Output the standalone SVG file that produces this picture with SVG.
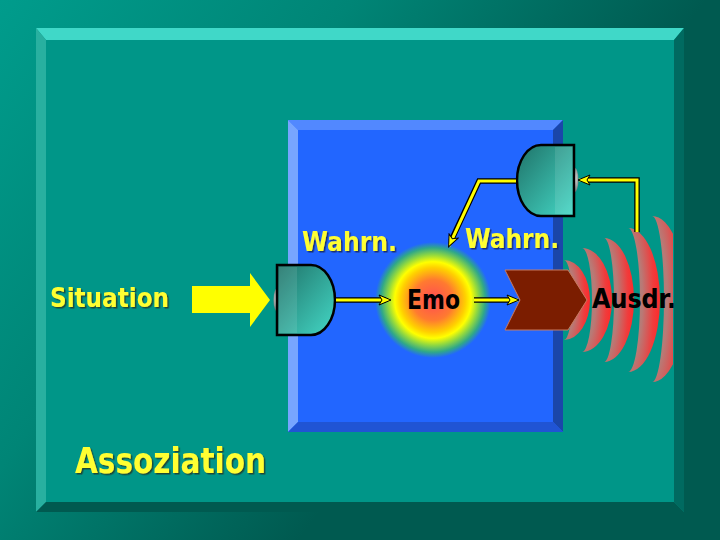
<svg xmlns="http://www.w3.org/2000/svg" width="720" height="540" viewBox="0 0 720 540">
  <defs>
    <linearGradient id="bg" gradientUnits="userSpaceOnUse" x1="0" y1="0" x2="450" y2="340">
      <stop offset="0" stop-color="#009c8c"/>
      <stop offset="0.5" stop-color="#008576"/>
      <stop offset="1" stop-color="#005a50"/>
    </linearGradient>
    <linearGradient id="rec" x1="0" y1="0" x2="1" y2="1">
      <stop offset="0" stop-color="#1f7268"/>
      <stop offset="1" stop-color="#44d8c6"/>
    </linearGradient>
    <radialGradient id="bump" cx="0.5" cy="0.45" r="0.6">
      <stop offset="0" stop-color="#ffffff"/>
      <stop offset="1" stop-color="#707878"/>
    </radialGradient>
    <radialGradient id="glow" gradientUnits="userSpaceOnUse" cx="433" cy="300" r="58">
      <stop offset="0" stop-color="#ff4a55"/>
      <stop offset="0.35" stop-color="#ff7a30"/>
      <stop offset="0.56" stop-color="#ffd000"/>
      <stop offset="0.66" stop-color="#ffff00"/>
      <stop offset="0.78" stop-color="#90d840"/>
      <stop offset="0.9" stop-color="#30a888"/>
      <stop offset="1" stop-color="#2266ff"/>
    </radialGradient>
    <radialGradient id="wave" cx="0" cy="0.5" r="1">
      <stop offset="0" stop-color="#a08680"/>
      <stop offset="0.45" stop-color="#b87a76"/>
      <stop offset="0.8" stop-color="#f03c3c"/>
      <stop offset="1" stop-color="#ff2a2a"/>
    </radialGradient>
    <clipPath id="waveClip">
      <rect x="555" y="190" width="118" height="220"/>
    </clipPath>
    <filter id="shTeal" x="-5%" y="-20%" width="115%" height="150%">
      <feDropShadow dx="1.5" dy="1.5" stdDeviation="0.4" flood-color="#1a4030" flood-opacity="0.9"/>
    </filter>
    <filter id="shBlue" x="-5%" y="-20%" width="115%" height="150%">
      <feDropShadow dx="1.5" dy="1.5" stdDeviation="0.4" flood-color="#152a66" flood-opacity="0.9"/>
    </filter>
    <marker id="ah" markerUnits="userSpaceOnUse" markerWidth="14" markerHeight="12" viewBox="0 0 14 12" refX="12" refY="6" orient="auto">
      <path d="M1,1 L13,6 L1,11 L4,6 Z" fill="#ffff00" stroke="#000" stroke-width="1"/>
    </marker>
  </defs>
  <style>
    .ylw { fill: #ffff33; font-family: "DejaVu Sans", sans-serif; font-weight: bold; }
    .blk { fill: #000; font-family: "DejaVu Sans", sans-serif; font-weight: bold; }
    .lineK { fill: none; stroke: #000; stroke-width: 5.5; stroke-linejoin: miter; }
    .lineY { fill: none; stroke: #ffff00; stroke-width: 3; stroke-linejoin: miter; }
    .recOut { fill: url(#rec); stroke: #000; stroke-width: 2.5; }
  </style>

  <!-- background and frame -->
  <rect x="0" y="0" width="720" height="540" fill="url(#bg)"/>
  <g id="frame">
    <rect x="36" y="28" width="648" height="484" fill="#009688"/>
    <polygon points="36,28 684,28 674,40 46,40" fill="#40d8c8"/>
    <polygon points="36,28 46,40 46,502 36,512" fill="#28b0a0"/>
    <polygon points="684,28 684,512 674,502 674,40" fill="#006a60"/>
    <polygon points="36,512 46,502 674,502 684,512" fill="#005a50"/>
  </g>

  <!-- blue box -->
  <g id="box">
    <rect x="288" y="120" width="275" height="312" fill="#2266ff"/>
    <polygon points="288,120 563,120 553,130 298,130" fill="#5288ff"/>
    <polygon points="288,120 298,130 298,422 288,432" fill="#77a5ff"/>
    <polygon points="563,120 563,432 553,422 553,130" fill="#1a46aa"/>
    <polygon points="288,432 298,422 553,422 563,432" fill="#2054d4"/>
  </g>

  <!-- Situation -->
  <g id="situation">
    <text class="ylw" x="50" y="307" font-size="27" filter="url(#shTeal)" textLength="119" lengthAdjust="spacingAndGlyphs">Situation</text>
    <polygon points="192,286 250,286 250,273 270,300 250,327 250,313 192,313" fill="#ffff00"/>
  </g>

  <!-- left receptor -->
  <g id="receptor-left">
    <ellipse cx="278" cy="300" rx="4.5" ry="12.5" fill="url(#bump)"/>
    <path class="recOut" d="M277,265 H311 A24,35 0 0 1 311,335 H277 Z"/>
    <rect x="279" y="267" width="18" height="66" fill="#ffffff" opacity="0.1"/>
    <text class="ylw" x="302" y="251" font-size="27" filter="url(#shBlue)" textLength="95" lengthAdjust="spacingAndGlyphs">Wahrn.</text>
  </g>

  <!-- Emo -->
  <g id="emo">
    <circle cx="433" cy="300" r="58" fill="url(#glow)"/>
    <text class="blk" x="407" y="309" font-size="27" textLength="53" lengthAdjust="spacingAndGlyphs">Emo</text>
  </g>

  <!-- expression: waves + chevron -->
  <g id="expression">
    <g clip-path="url(#waveClip)">
      <path fill="url(#wave)" d="M652,216 A34,83 0 0 1 652,382 A12,83 0 0 0 652,216 Z"/>
      <path fill="url(#wave)" d="M628,228 A32,72 0 0 1 628,372 A12,72 0 0 0 628,228 Z"/>
      <path fill="url(#wave)" d="M604,238 A30,62 0 0 1 604,362 A10,62 0 0 0 604,238 Z"/>
      <path fill="url(#wave)" d="M582,248 A30,52 0 0 1 582,352 A10,52 0 0 0 582,248 Z"/>
      <path fill="url(#wave)" d="M564,260 A26,40 0 0 1 564,340 A8,40 0 0 0 564,260 Z"/>
    </g>
    <polygon points="505,270 568,270 587,300 568,330 505,330 520,300" fill="#7b1d00" stroke="#c87a60" stroke-width="1"/>
    <text class="blk" x="592" y="308" font-size="26" textLength="84" lengthAdjust="spacingAndGlyphs">Ausdr.</text>
  </g>

  <!-- top receptor -->
  <g id="receptor-top">
    <ellipse cx="574" cy="180" rx="4.5" ry="12.5" fill="url(#bump)"/>
    <path class="recOut" d="M574,145 H541 A24,35.5 0 0 0 541,216 H574 Z"/>
    <rect x="555" y="147" width="17" height="67" fill="#ffffff" opacity="0.1"/>
    <text class="ylw" x="465" y="248" font-size="27" filter="url(#shBlue)" textLength="94" lengthAdjust="spacingAndGlyphs">Wahrn.</text>
  </g>

  <!-- Assoziation -->
  <g id="assoziation">
    <text class="ylw" x="75" y="473" font-size="36" filter="url(#shTeal)" textLength="191" lengthAdjust="spacingAndGlyphs">Assoziation</text>
  </g>

  <!-- connectors -->
  <g id="connectors">
    <path class="lineK" d="M336,300 H386"/>
    <path class="lineY" d="M336,300 H390" marker-end="url(#ah)"/>
    <path class="lineK" d="M474,300 H513"/>
    <path class="lineY" d="M474,300 H518" marker-end="url(#ah)"/>
    <path class="lineK" d="M637,232 V180 H584"/>
    <path class="lineY" d="M637,232 V180 H579" marker-end="url(#ah)"/>
    <path class="lineK" d="M516,181 H479 L451,241"/>
    <path class="lineY" d="M516,181 H479 L449,246" marker-end="url(#ah)"/>
  </g>
</svg>
